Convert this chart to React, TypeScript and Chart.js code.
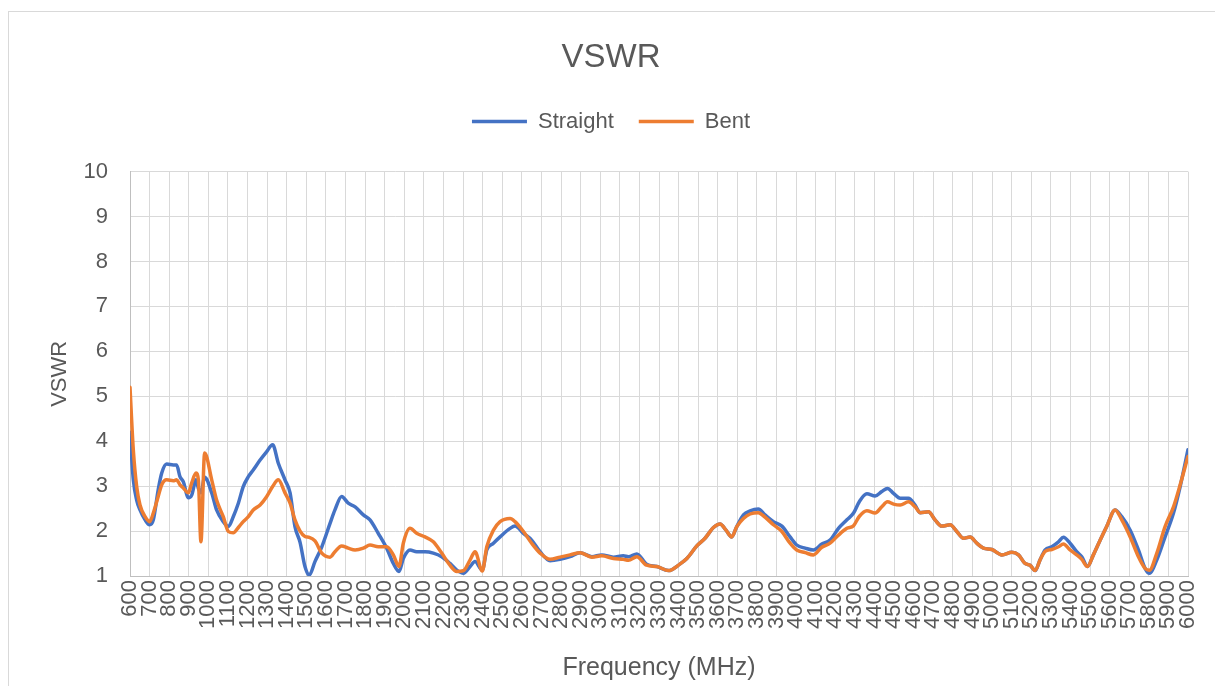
import React, { useEffect, useRef } from 'react';
import { Chart, registerables } from 'chart.js';

Chart.register(...registerables);

// Frequency samples (MHz)
const FREQ = [
  600, 617, 634, 651, 677, 700, 719, 744, 762, 787,
  821, 838, 855, 872, 898, 915, 937, 949, 962, 981,
  1017, 1042, 1076, 1102, 1127, 1153, 1178, 1204, 1229, 1264,
  1298, 1328, 1357, 1391, 1417, 1442, 1468, 1493, 1515, 1544,
  1579, 1621, 1646, 1680, 1714, 1749, 1791, 1825, 1867, 1910,
  1944, 1973, 1995, 2029, 2063, 2106, 2148, 2191, 2233, 2268,
  2302, 2336, 2361, 2398, 2421, 2455, 2489, 2540, 2565, 2608,
  2650, 2693, 2744, 2795, 2846, 2897, 2957, 3008, 3067, 3118,
  3144, 3187, 3237, 3289, 3348, 3408, 3442, 3493, 3535, 3578,
  3612, 3642, 3671, 3697, 3731, 3765, 3807, 3841, 3884, 3927,
  3969, 4003, 4046, 4088, 4131, 4173, 4216, 4259, 4293, 4323,
  4361, 4403, 4437, 4466, 4497, 4531, 4573, 4607, 4633, 4675,
  4709, 4743, 4786, 4820, 4854, 4888, 4922, 4956, 4999, 5050,
  5101, 5135, 5168, 5194, 5220, 5245, 5271, 5305, 5339, 5364,
  5398, 5432, 5458, 5487, 5517, 5552, 5585, 5628, 5662, 5705,
  5747, 5781, 5803, 5841, 5883, 5926, 5960, 6000,
];

const STRAIGHT = [
  4.2, 3.14, 2.69, 2.47, 2.25, 2.14, 2.25, 2.92, 3.29, 3.49,
  3.47, 3.47, 3.21, 3.1, 2.74, 2.8, 3.14, 2.95, 2.85, 3.2,
  2.85, 2.47, 2.21, 2.1, 2.32, 2.62, 2.99, 3.21, 3.36, 3.58,
  3.77, 3.92, 3.51, 3.14, 2.85, 2.1, 1.75, 1.21, 1.02, 1.32,
  1.65, 2.17, 2.47, 2.77, 2.62, 2.54, 2.36, 2.25, 1.95, 1.62,
  1.28, 1.1, 1.39, 1.58, 1.54, 1.54, 1.51, 1.43, 1.28, 1.13,
  1.06, 1.21, 1.32, 1.13, 1.58, 1.73, 1.87, 2.06, 2.11, 1.95,
  1.8, 1.54, 1.34, 1.37, 1.43, 1.52, 1.43, 1.47, 1.42, 1.45,
  1.43, 1.49, 1.26, 1.21, 1.12, 1.27, 1.39, 1.67, 1.84, 2.08,
  2.16, 2.02, 1.87, 2.1, 2.36, 2.45, 2.49, 2.36, 2.21, 2.11,
  1.87, 1.69, 1.62, 1.58, 1.71, 1.8, 2.06, 2.25, 2.4, 2.66,
  2.83, 2.78, 2.88, 2.95, 2.84, 2.73, 2.73, 2.58, 2.41, 2.43,
  2.25, 2.11, 2.14, 1.99, 1.84, 1.87, 1.73, 1.62, 1.59, 1.47,
  1.53, 1.47, 1.28, 1.24, 1.12, 1.36, 1.58, 1.65, 1.76, 1.86,
  1.73, 1.54, 1.43, 1.21, 1.47, 1.8, 2.1, 2.47, 2.32, 2.02,
  1.58, 1.17, 1.06, 1.36, 1.87, 2.4, 2.99, 3.81,
];

const BENT = [
  5.2, 3.8, 2.99, 2.58, 2.32, 2.21, 2.4, 2.77, 3.03, 3.14,
  3.12, 3.14, 3.03, 2.96, 2.85, 3.07, 3.29, 3.14, 1.76, 3.74,
  3.14, 2.69, 2.32, 1.99, 1.96, 2.08, 2.21, 2.32, 2.47, 2.58,
  2.77, 2.99, 3.14, 2.85, 2.62, 2.25, 2.0, 1.88, 1.86, 1.78,
  1.51, 1.42, 1.54, 1.67, 1.62, 1.58, 1.62, 1.69, 1.65, 1.65,
  1.47, 1.21, 1.73, 2.06, 1.95, 1.87, 1.76, 1.51, 1.24, 1.1,
  1.12, 1.36, 1.54, 1.11, 1.65, 2.02, 2.21, 2.28, 2.21, 1.99,
  1.73, 1.51, 1.37, 1.42, 1.47, 1.52, 1.42, 1.45, 1.39, 1.37,
  1.35, 1.43, 1.24, 1.21, 1.12, 1.27, 1.39, 1.67, 1.84, 2.08,
  2.16, 2.02, 1.87, 2.1, 2.28, 2.38, 2.41, 2.31, 2.14, 1.99,
  1.73, 1.58, 1.52, 1.47, 1.64, 1.73, 1.91, 2.06, 2.12, 2.33,
  2.45, 2.4, 2.54, 2.65, 2.6, 2.58, 2.65, 2.54, 2.41, 2.43,
  2.25, 2.11, 2.14, 1.99, 1.84, 1.87, 1.73, 1.62, 1.59, 1.47,
  1.53, 1.47, 1.28, 1.24, 1.12, 1.36, 1.55, 1.59, 1.65, 1.71,
  1.58, 1.47, 1.37, 1.21, 1.47, 1.8, 2.1, 2.47, 2.25, 1.87,
  1.43, 1.17, 1.13, 1.51, 2.1, 2.54, 3.03, 3.66,
];

const SERIES_LABELS = ['Straight', 'Bent'];
const SERIES_COLORS = ['#4472C4', '#ED7D31'];
const X_MIN = 600;
const X_MAX = 6000;
const X_STEP = 100;
const Y_MIN = 1;
const Y_MAX = 10;
const Y_STEP = 1;

const FONT = "'Liberation Sans', Arial, sans-serif";
const TEXT = '#595959';
const GRID = '#D9D9D9';

const PAD_LEFT = 34;
const PLOT_LEFT = 130;

export default function App() {
  const ref = useRef<HTMLCanvasElement>(null);

  useEffect(() => {
    const canvas = ref.current;
    if (!canvas) return;

    const frame = {
      id: 'frame',
      beforeDraw(chart: any) {
        const ctx = chart.ctx;
        ctx.save();
        ctx.fillStyle = '#ffffff';
        ctx.fillRect(0, 0, chart.width, chart.height);
        ctx.strokeStyle = GRID;
        ctx.lineWidth = 1;
        ctx.strokeRect(8.5, 11.5, chart.width, chart.height);
        ctx.restore();
      },
    };

    const series = [STRAIGHT, BENT];

    const chart = new Chart(canvas, {
      type: 'line',
      data: {
        datasets: series.map((vals, s) => ({
          label: SERIES_LABELS[s],
          data: FREQ.map((f, i) => ({ x: f, y: vals[i] })),
          borderColor: SERIES_COLORS[s],
          backgroundColor: SERIES_COLORS[s],
          borderWidth: 3.5,
          pointRadius: 0,
          pointHoverRadius: 0,
          cubicInterpolationMode: 'monotone' as const,
          borderCapStyle: 'round' as const,
          borderJoinStyle: 'round' as const,
          order: s === 0 ? 1 : 0,
        })),
      },
      options: {
        responsive: false,
        animation: false,
        devicePixelRatio: 1,
        layout: { padding: { top: 0, left: PAD_LEFT, right: 27, bottom: 0 } },
        plugins: {
          title: {
            display: true,
            text: 'VSWR',
            color: TEXT,
            font: { family: FONT, size: 33, weight: 'normal' },
            padding: { top: 38, bottom: 8 },
          },
          subtitle: {
            display: true,
            text: '',
            weight: 500,
            font: { family: FONT, size: 10 },
            padding: { top: 17, bottom: 0 },
          },
          legend: {
            position: 'top',
            labels: {
              usePointStyle: true,
              pointStyle: 'line',
              pointStyleWidth: 55,
              padding: 25,
              color: TEXT,
              font: { family: FONT, size: 22 },
              sort: (a: any, b: any) => a.datasetIndex - b.datasetIndex,
            },
          },
          tooltip: { enabled: false },
        },
        scales: {
          x: {
            type: 'linear',
            min: X_MIN,
            max: X_MAX,
            ticks: {
              stepSize: X_STEP,
              autoSkip: false,
              minRotation: 90,
              maxRotation: 90,
              padding: 4,
              color: TEXT,
              font: { family: FONT, size: 22, lineHeight: 1 },
              callback: (v: any) => String(v),
            },
            grid: { color: GRID, drawTicks: false, lineWidth: 1 },
            border: { color: '#BFBFBF' },
            title: {
              display: true,
              text: 'Frequency (MHz)',
              color: TEXT,
              font: { family: FONT, size: 25 },
              padding: { top: 0, bottom: 3 },
            },
            afterFit: (s: any) => {
              s.height = 110;
            },
          },
          y: {
            min: Y_MIN,
            max: Y_MAX,
            ticks: {
              stepSize: Y_STEP,
              padding: 22,
              color: TEXT,
              font: { family: FONT, size: 22 },
            },
            grid: { color: GRID, drawTicks: false, lineWidth: 1 },
            border: { color: '#BFBFBF' },
            title: {
              display: true,
              text: 'VSWR',
              color: TEXT,
              font: { family: FONT, size: 22 },
              padding: { top: 13, bottom: 0 },
            },
            afterFit: (s: any) => {
              s.width = PLOT_LEFT - PAD_LEFT;
            },
          },
        },
      } as any,
      plugins: [frame],
    });

    return () => chart.destroy();
  }, []);

  return (
    <div style={{ position: 'absolute', left: 0, top: 0, width: 1215, height: 686 }}>
      <canvas ref={ref} width={1215} height={686} />
    </div>
  );
}
